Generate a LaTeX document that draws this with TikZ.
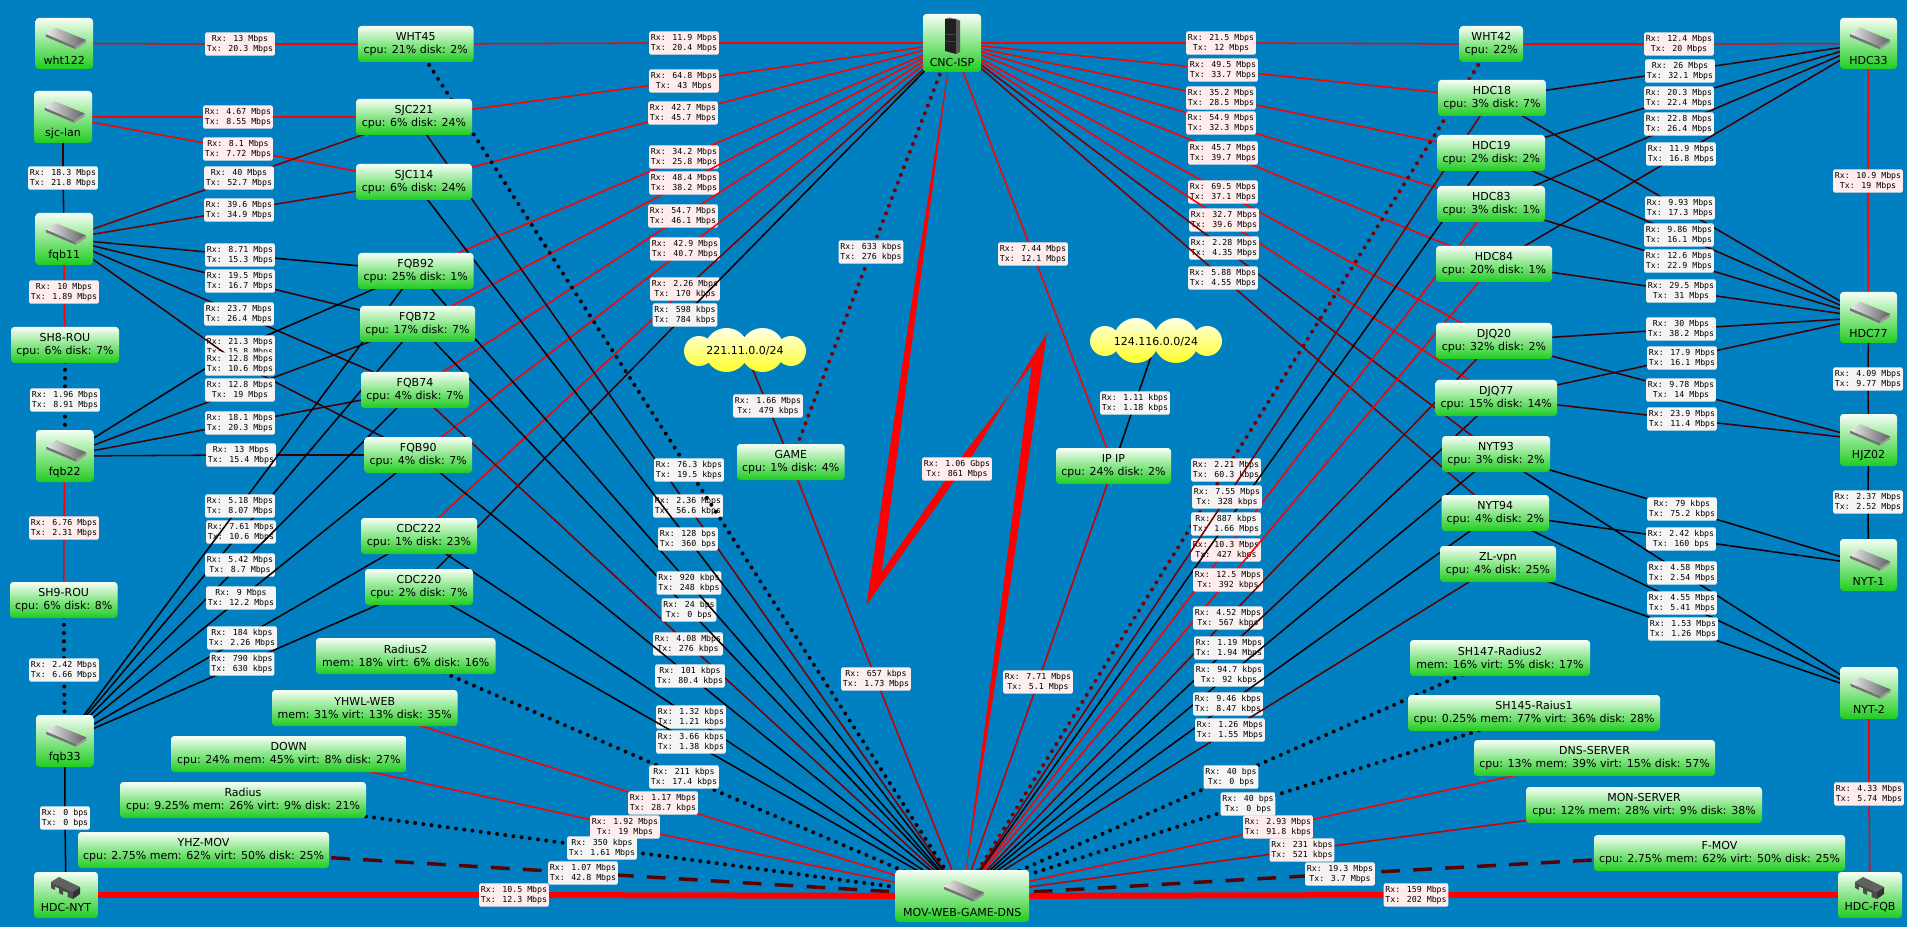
\documentclass[tikz,border=0pt]{standalone}
\usepackage{fontspec}
\setmainfont{DejaVu Sans}
\newfontfamily\labmono{DejaVu Sans Mono}
\pgfdeclarelayer{nodes}
\pgfsetlayers{main,nodes}
\definecolor{bgblue}{HTML}{0080C0}
\definecolor{nTop}{HTML}{F6FFF6}
\definecolor{nBot}{HTML}{1FCC1F}
\definecolor{cloudTop}{HTML}{FFFFE6}
\definecolor{cloudBot}{HTML}{FFFF28}
\definecolor{cR}{HTML}{FF0000}
\definecolor{cH}{HTML}{C80000}
\definecolor{cM}{HTML}{7A0000}
\definecolor{cD}{HTML}{3C0000}
\definecolor{cK}{HTML}{0C0000}
\definecolor{cT}{HTML}{5A0000}
\definecolor{labfillcR}{HTML}{FFEDED}
\definecolor{labfillcH}{HTML}{FBEFEF}
\definecolor{labfillcM}{HTML}{F7F1F1}
\definecolor{labfillcD}{HTML}{F6F3F3}
\definecolor{labfillcK}{HTML}{F5F5F5}
\definecolor{labfillcT}{HTML}{F6F2F2}
\newcounter{lbl}
\tikzset{
  nbox/.style={rectangle,rounded corners=2.5pt,inner sep=0pt,align=center,
    top color=nTop,bottom color=nBot,
    font=\fontsize{8.25}{9.75}\selectfont,text=black},
  ntext/.style={inner sep=0pt,font=\fontsize{8.25}{9.75}\selectfont,text=black},
  lab/.style={rectangle,rounded corners=1.5pt,inner xsep=1.2pt,inner ysep=1.2pt,align=center,
    minimum height=17.6pt,font=\labmono\fontsize{6.2}{7.5}\selectfont,text=black},
  lnk/.style={line width=1.15pt},
  lnkdot/.style={line width=3pt,line cap=round,dash pattern=on 0pt off 6.2pt},
  lnkdash/.style={line width=2.6pt,dash pattern=on 14pt off 10pt},
  lnkthick/.style={line width=4.5pt}
}
% connector: from node, half colour, label point, rx, tx, half colour, to node
\newcommand{\lk}[8][lnk]{%
  \stepcounter{lbl}%
  \coordinate (M\thelbl) at (#4);%
  \draw[#1,draw=#3] (#2.center) -- (M\thelbl);%
  \draw[#1,draw=#7] (M\thelbl) -- (#8.center);%
  \node[lab,fill=labfill#3] (L\thelbl) at (M\thelbl) {Rx: #5\\Tx: #6};%
}
\newcommand{\nd}[6]{%
  \pgfmathsetmacro{\nX}{(#2+#4)/2}\pgfmathsetmacro{\nY}{(#3+#5)/2}%
  \pgfmathsetmacro{\nW}{(#4-#2)*.75}\pgfmathsetmacro{\nH}{(#5-#3)*.75}%
  \node[nbox,minimum width=\nW pt,minimum height=\nH pt] (#1) at (\nX,\nY) {#6};%
}
\newcommand{\iconswitch}{%
  \fill[black!55] (-18.4,-9.6) -- (11.4,3) -- (11.4,5.8) -- (-18.4,-6.8) -- cycle;
  \fill[black!40] (11.4,3) -- (21.6,-3.6) -- (21.6,-0.8) -- (11.4,5.8) -- cycle;
  \shade[left color=black!8,right color=black!62] (-18.4,-9.6) -- (-8.2,-15.8) -- (21.6,-3.6) -- (11.4,3) -- cycle;
}
\newcommand{\iconrack}{%
  \fill[black!88] (-7,-9) -- (-7,-24) -- (4,-24) -- (4,11) -- (-7,8) -- cycle;
  \fill[black!65] (4,-24) -- (8,-22) -- (8,9) -- (4,11) -- cycle;
  \fill[black!55] (-7,-24) -- (-2,-25.5) -- (8,-22) -- (4,-24) -- cycle;
  \draw[black!60,line width=.3pt] (-7,-9) -- (4,-8) (-7,-2) -- (4,-1);
}
\newcommand{\iconbridge}{%
  \begin{scope}[shift={(0,-7)}]
  \fill[black!62] (-15,-6) -- (-7,-11) -- (14,-1) -- (7,4) -- cycle;
  \fill[black!70] (-15,-6) -- (7,4) -- (7,11) -- (1.5,9) -- (1.5,4.5) -- (-3,3) -- (-3,7) -- (-7,5) -- (-7,0.5) -- (-11,-1.5) -- (-11,2) -- (-15,0) -- cycle;
  \fill[black!80] (7,4) -- (14,-1) -- (14,6) -- (7,11) -- cycle;
  \end{scope}
}
% device box: name, x1,y1,x2,y2, text, icon
\newcommand{\dv}[7]{%
  \nd{#1}{#2}{#3}{#4}{#5}{}%
  \begin{scope}[shift={(\nX,\nY)}]#7\end{scope}%
  \node[ntext] (#1t) at (\nX,\nY+#6) {#1};%
}
\begin{document}
\begin{tikzpicture}[x=.75pt,y=-.75pt]
\useasboundingbox (0,0) rectangle (1907,927);
\fill[bgblue] (0,0) rectangle (1907,927);
\begin{pgfonlayer}{nodes}
\dv{wht122}{35.5}{18}{93}{69}{16.5}{\iconswitch}
\dv{sjc-lan}{34}{91}{92}{143}{16}{\iconswitch}
\dv{fqb11}{35.5}{213}{93}{265}{16}{\iconswitch}
\dv{fqb22}{36}{430}{93.5}{482}{16}{\iconswitch}
\dv{fqb33}{36}{715}{93.5}{767}{16}{\iconswitch}
\dv{HDC-NYT}{34}{872}{98}{918}{12}{\iconbridge}
\dv{CNC-ISP}{923}{14}{981}{72}{19}{\iconrack}
\dv{MOV-WEB-GAME-DNS}{895.5}{870}{1029}{922}{16}{\iconswitch}
\dv{HDC33}{1840}{18}{1897}{69}{16.5}{\iconswitch}
\dv{HDC77}{1840}{292}{1897}{343}{16}{\iconswitch}
\dv{HJZ02}{1840}{414}{1897}{466}{16}{\iconswitch}
\dv{NYT-1}{1840}{539}{1897}{591}{16}{\iconswitch}
\dv{NYT-2}{1840}{667}{1898}{719}{16}{\iconswitch}
\dv{HDC-FQB}{1838}{872}{1902}{918}{12}{\iconbridge}
\nd{WHT45}{358}{26}{473.5}{62}{WHT45\\cpu: 21\% disk: 2\%}
\nd{SJC221}{356}{99}{472}{135}{SJC221\\cpu: 6\% disk: 24\%}
\nd{SJC114}{356}{164}{472}{200}{SJC114\\cpu: 6\% disk: 24\%}
\nd{FQB92}{358}{253}{473.5}{289}{FQB92\\cpu: 25\% disk: 1\%}
\nd{FQB72}{360}{306}{475}{342}{FQB72\\cpu: 17\% disk: 7\%}
\nd{FQB74}{361}{372}{469}{408}{FQB74\\cpu: 4\% disk: 7\%}
\nd{FQB90}{364.5}{437}{472}{473}{FQB90\\cpu: 4\% disk: 7\%}
\nd{CDC222}{361}{518}{477}{554}{CDC222\\cpu: 1\% disk: 23\%}
\nd{CDC220}{365}{569}{473}{605}{CDC220\\cpu: 2\% disk: 7\%}
\nd{SH8-ROU}{11}{327}{119}{363}{SH8-ROU\\cpu: 6\% disk: 7\%}
\nd{SH9-ROU}{10}{582}{117.5}{618}{SH9-ROU\\cpu: 6\% disk: 8\%}
\nd{Radius2}{316}{638}{495.5}{674}{Radius2\\mem: 18\% virt: 6\% disk: 16\%}
\nd{YHWL-WEB}{272}{690}{457.5}{726}{YHWL-WEB\\mem: 31\% virt: 13\% disk: 35\%}
\nd{DOWN}{171}{736}{406.5}{772}{DOWN\\cpu: 24\% mem: 45\% virt: 8\% disk: 27\%}
\nd{Radius}{120}{782}{366}{818}{Radius\\cpu: 9.25\% mem: 26\% virt: 9\% disk: 21\%}
\nd{YHZ-MOV}{78}{832}{329}{868}{YHZ-MOV\\cpu: 2.75\% mem: 62\% virt: 50\% disk: 25\%}
\nd{GAME}{737}{444}{844.5}{480}{GAME\\cpu: 1\% disk: 4\%}
\nd{IPIP}{1056}{448}{1171}{484}{IP IP\\cpu: 24\% disk: 2\%}
\nd{WHT42}{1459.6}{26}{1523}{62}{WHT42\\cpu: 22\%}
\nd{HDC18}{1438}{80}{1546}{116}{HDC18\\cpu: 3\% disk: 7\%}
\nd{HDC19}{1437.6}{135}{1545}{171}{HDC19\\cpu: 2\% disk: 2\%}
\nd{HDC83}{1437.6}{186}{1545}{222}{HDC83\\cpu: 3\% disk: 1\%}
\nd{HDC84}{1436}{246}{1552}{282}{HDC84\\cpu: 20\% disk: 1\%}
\nd{DJQ20}{1436}{323}{1552}{359}{DJQ20\\cpu: 32\% disk: 2\%}
\nd{DJQ77}{1435.6}{380}{1557}{416}{DJQ77\\cpu: 15\% disk: 14\%}
\nd{NYT93}{1442}{436}{1550}{472}{NYT93\\cpu: 3\% disk: 2\%}
\nd{NYT94}{1441.6}{495}{1549}{531}{NYT94\\cpu: 4\% disk: 2\%}
\nd{ZL-vpn}{1440}{546}{1556}{582}{ZL-vpn\\cpu: 4\% disk: 25\%}
\nd{SH147}{1410}{640}{1590}{676}{SH147-Radius2\\mem: 16\% virt: 5\% disk: 17\%}
\nd{SH145}{1408}{695}{1660}{731}{SH145-Raius1\\cpu: 0.25\% mem: 77\% virt: 36\% disk: 28\%}
\nd{DNS}{1474}{740}{1715}{776}{DNS-SERVER\\cpu: 13\% mem: 39\% virt: 15\% disk: 57\%}
\nd{MON}{1526}{787}{1762}{823}{MON-SERVER\\cpu: 12\% mem: 28\% virt: 9\% disk: 38\%}
\nd{F-MOV}{1594}{835}{1845}{871}{F-MOV\\cpu: 2.75\% mem: 62\% virt: 50\% disk: 25\%}
% clouds
\shade[top color=cloudTop,bottom color=cloudBot]
  (699,351) circle[radius=15] (726.5,350) circle[radius=22] (762.4,350) circle[radius=22] (791,351) circle[radius=15];
\node[ntext] (c221) at (745,351) {221.11.0.0/24};
\shade[top color=cloudTop,bottom color=cloudBot]
  (1105,341) circle[radius=15] (1136,340.5) circle[radius=22.5] (1176,340.5) circle[radius=22.5] (1207,341) circle[radius=15];
\node[ntext] (c124) at (1156,342) {124.116.0.0/24};
\end{pgfonlayer}
% lightning link
\fill[cR] (CNC-ISP.center) -- (910.6,310) -- (866.5,605) -- (974,453) -- (1047,333) -- (1005,620) -- (MOV-WEB-GAME-DNS.center)
  -- (999,620) -- (1032,365) -- (964.5,453) -- (881.6,572) -- (916.3,310) -- cycle;
\node[lab,fill=labfillcR] (Lbolt) at (957,469) {Rx: 1.06 Gbps\\Tx: 861 Mbps};
% left column
\lk{wht122}{cR}{240,44}{13 Mbps}{20.3 Mbps}{cR}{WHT45}
\lk{sjc-lan}{cR}{238,117}{4.67 Mbps}{8.55 Mbps}{cR}{SJC221}
\lk{sjc-lan}{cR}{238,149}{8.1 Mbps}{7.72 Mbps}{cR}{SJC114}
\lk{sjc-lan}{cD}{63,178}{18.3 Mbps}{21.8 Mbps}{cD}{fqb11}
\lk{fqb11}{cM}{239,178}{40 Mbps}{52.7 Mbps}{cM}{SJC221}
\lk{fqb11}{cM}{239,210}{39.6 Mbps}{34.9 Mbps}{cM}{SJC114}
\lk{fqb11}{cD}{240,255}{8.71 Mbps}{15.3 Mbps}{cK}{FQB92}
\lk{fqb11}{cD}{240,281}{19.5 Mbps}{16.7 Mbps}{cD}{FQB72}
\lk{fqb11}{cD}{239,314}{23.7 Mbps}{26.4 Mbps}{cD}{FQB74}
\lk{fqb22}{cK}{240,347}{21.3 Mbps}{15.8 Mbps}{cK}{FQB92}
\lk{fqb11}{cD}{240,364}{12.8 Mbps}{10.6 Mbps}{cD}{FQB90}
\lk{fqb22}{cD}{240,390}{12.8 Mbps}{19 Mbps}{cD}{FQB72}
\lk{fqb22}{cD}{240,423}{18.1 Mbps}{20.3 Mbps}{cD}{FQB74}
\lk{fqb22}{cD}{241,455}{13 Mbps}{15.4 Mbps}{cD}{FQB90}
\lk{fqb11}{cR}{64,292}{10 Mbps}{1.89 Mbps}{cR}{SH8-ROU}
\lk[lnkdot]{SH8-ROU}{cK}{65,400}{1.96 Mbps}{8.91 Mbps}{cK}{fqb22}
\lk{fqb22}{cR}{64,528}{6.76 Mbps}{2.31 Mbps}{cR}{SH9-ROU}
\lk[lnkdot]{SH9-ROU}{cK}{64,670}{2.42 Mbps}{6.66 Mbps}{cK}{fqb33}
\lk{fqb33}{cK}{65,818}{0 bps}{0 bps}{cK}{HDC-NYT}
\lk{fqb33}{cK}{241,532}{7.61 Mbps}{10.6 Mbps}{cK}{FQB72}
\lk{fqb33}{cK}{240,506}{5.18 Mbps}{8.07 Mbps}{cK}{FQB92}
\lk{fqb33}{cK}{240,565}{5.42 Mbps}{8.7 Mbps}{cK}{FQB74}
\lk{fqb33}{cK}{241,598}{9 Mbps}{12.2 Mbps}{cK}{FQB90}
\lk{fqb33}{cK}{242,638}{184 kbps}{2.26 Mbps}{cK}{CDC222}
\lk{fqb33}{cK}{242,664}{790 kbps}{630 kbps}{cK}{CDC220}
% to CNC
\lk{WHT45}{cR}{684,43}{11.9 Mbps}{20.4 Mbps}{cR}{CNC-ISP}
\lk{SJC221}{cR}{684,81}{64.8 Mbps}{43 Mbps}{cR}{CNC-ISP}
\lk{SJC114}{cR}{683,113}{42.7 Mbps}{45.7 Mbps}{cR}{CNC-ISP}
\lk{FQB92}{cR}{684,157}{34.2 Mbps}{25.8 Mbps}{cR}{CNC-ISP}
\lk{FQB72}{cR}{684,183}{48.4 Mbps}{38.2 Mbps}{cR}{CNC-ISP}
\lk{FQB74}{cR}{683,216}{54.7 Mbps}{46.1 Mbps}{cR}{CNC-ISP}
\lk{FQB90}{cR}{685,249}{42.9 Mbps}{40.7 Mbps}{cR}{CNC-ISP}
\lk{CDC222}{cR}{685,289}{2.26 Mbps}{170 kbps}{cM}{CNC-ISP}
\lk{CDC220}{cD}{685,315}{598 kbps}{784 kbps}{cK}{CNC-ISP}
% to MOV, left
\def\MV{MOV-WEB-GAME-DNS}
\lk{SJC221}{cD}{688,506}{2.36 Mbps}{56.6 kbps}{cM}{\MV}
\lk{FQB74}{cM}{688,644}{4.08 Mbps}{276 kbps}{cM}{\MV}
\lk{CDC222}{cK}{691,717}{1.32 kbps}{1.21 kbps}{cK}{\MV}
\lk{FQB72}{cK}{689,610}{24 bps}{0 bps}{cK}{\MV}
\lk{FQB92}{cK}{689,583}{920 kbps}{248 kbps}{cK}{\MV}
\lk{SJC114}{cK}{688,539}{128 bps}{360 bps}{cK}{\MV}
\lk[lnkdot]{WHT45}{cK}{689,470}{76.3 kbps}{19.5 kbps}{cK}{\MV}
\lk{FQB90}{cK}{690,676}{101 kbps}{80.4 kbps}{cK}{\MV}
\lk{CDC220}{cK}{691,742}{3.66 kbps}{1.38 kbps}{cK}{\MV}
\lk[lnkdot]{Radius2}{cK}{684,777}{211 kbps}{17.4 kbps}{cK}{\MV}
\lk{YHWL-WEB}{cR}{663,803}{1.17 Mbps}{28.7 kbps}{cR}{\MV}
\lk{DOWN}{cR}{625,827}{1.92 Mbps}{19 Mbps}{cR}{\MV}
\lk[lnkdot]{Radius}{cK}{602,848}{350 kbps}{1.61 Mbps}{cK}{\MV}
\lk[lnkdash]{YHZ-MOV}{cT}{583,873}{1.07 Mbps}{42.8 Mbps}{cT}{\MV}
\lk[lnkthick]{HDC-NYT}{cR}{514,895}{10.5 Mbps}{12.3 Mbps}{cR}{\MV}
% centre
\lk[lnkdot]{GAME}{cM}{871,252}{633 kbps}{276 kbps}{cM}{CNC-ISP}
\lk{GAME}{cM}{768,406}{1.66 Mbps}{479 kbps}{cM}{c221}
\lk{GAME}{cH}{876,679}{657 kbps}{1.73 Mbps}{cH}{\MV}
\lk{IPIP}{cR}{1033,254}{7.44 Mbps}{12.1 Mbps}{cR}{CNC-ISP}
\lk{IPIP}{cK}{1135,403}{1.11 kbps}{1.18 kbps}{cK}{c124}
\lk{IPIP}{cH}{1038,682}{7.71 Mbps}{5.1 Mbps}{cH}{\MV}
% to CNC, right
\lk{CNC-ISP}{cR}{1221,43}{21.5 Mbps}{12 Mbps}{cR}{WHT42}
\lk{CNC-ISP}{cR}{1223,70}{49.5 Mbps}{33.7 Mbps}{cR}{HDC18}
\lk{CNC-ISP}{cR}{1221,98}{35.2 Mbps}{28.5 Mbps}{cR}{HDC19}
\lk{CNC-ISP}{cR}{1221,123}{54.9 Mbps}{32.3 Mbps}{cR}{HDC83}
\lk{CNC-ISP}{cR}{1223,153}{45.7 Mbps}{39.7 Mbps}{cR}{HDC84}
\lk{CNC-ISP}{cR}{1223,192}{69.5 Mbps}{37.1 Mbps}{cR}{DJQ20}
\lk{CNC-ISP}{cR}{1224,220}{32.7 Mbps}{39.6 Mbps}{cR}{DJQ77}
\lk{CNC-ISP}{cM}{1224,248}{2.28 Mbps}{4.35 Mbps}{cM}{NYT93}
\lk{CNC-ISP}{cM}{1223,278}{5.88 Mbps}{4.55 Mbps}{cM}{NYT94}
% to MOV, right
\lk[lnkdot]{WHT42}{cM}{1226,470}{2.21 Mbps}{60.3 kbps}{cM}{\MV}
\lk{HDC83}{cR}{1226,550}{10.3 Mbps}{427 kbps}{cR}{\MV}
\lk{HDC19}{cK}{1226,524}{887 kbps}{1.66 Mbps}{cK}{\MV}
\lk{HDC18}{cM}{1227,497}{7.55 Mbps}{328 kbps}{cM}{\MV}
\lk{HDC84}{cR}{1228,580}{12.5 Mbps}{392 kbps}{cR}{\MV}
\lk{DJQ20}{cM}{1228,618}{4.52 Mbps}{567 kbps}{cM}{\MV}
\lk{DJQ77}{cD}{1229,648}{1.19 Mbps}{1.94 Mbps}{cK}{\MV}
\lk{NYT93}{cK}{1229,675}{94.7 kbps}{92 kbps}{cK}{\MV}
\lk{NYT94}{cK}{1228,704}{9.46 kbps}{8.47 kbps}{cK}{\MV}
\lk{ZL-vpn}{cT}{1230,730}{1.26 Mbps}{1.55 Mbps}{cT}{\MV}
\lk[lnkdot]{SH147}{cK}{1231,777}{40 bps}{0 bps}{cK}{\MV}
\lk[lnkdot]{SH145}{cK}{1248,804}{40 bps}{0 bps}{cK}{\MV}
\lk{DNS}{cR}{1278,827}{2.93 Mbps}{91.8 kbps}{cR}{\MV}
\lk{MON}{cH}{1302,850}{231 kbps}{521 kbps}{cH}{\MV}
\lk[lnkdash]{F-MOV}{cT}{1340,874}{19.3 Mbps}{3.7 Mbps}{cT}{\MV}
\lk[lnkthick]{HDC-FQB}{cR}{1416,895}{159 Mbps}{202 Mbps}{cR}{\MV}
% right column
\lk{WHT42}{cR}{1679,44}{12.4 Mbps}{20 Mbps}{cR}{HDC33}
\lk{HDC18}{cD}{1680,71}{26 Mbps}{32.1 Mbps}{cD}{HDC33}
\lk{HDC19}{cD}{1679,98}{20.3 Mbps}{22.4 Mbps}{cD}{HDC33}
\lk{HDC83}{cD}{1679,124}{22.8 Mbps}{26.4 Mbps}{cD}{HDC33}
\lk{HDC84}{cD}{1681,154}{11.9 Mbps}{16.8 Mbps}{cD}{HDC33}
\lk{HDC18}{cD}{1680,208}{9.93 Mbps}{17.3 Mbps}{cD}{HDC77}
\lk{HDC19}{cD}{1679,235}{9.86 Mbps}{16.1 Mbps}{cD}{HDC77}
\lk{HDC83}{cD}{1679,261}{12.6 Mbps}{22.9 Mbps}{cD}{HDC77}
\lk{HDC84}{cD}{1681,291}{29.5 Mbps}{31 Mbps}{cD}{HDC77}
\lk{DJQ20}{cD}{1681,329}{30 Mbps}{38.2 Mbps}{cD}{HDC77}
\lk{DJQ77}{cD}{1682,358}{17.9 Mbps}{16.1 Mbps}{cD}{HDC77}
\lk{DJQ20}{cD}{1681,390}{9.78 Mbps}{14 Mbps}{cD}{HJZ02}
\lk{DJQ77}{cD}{1682,419}{23.9 Mbps}{11.4 Mbps}{cD}{HJZ02}
\lk{HDC33}{cR}{1868,181}{10.9 Mbps}{19 Mbps}{cR}{HDC77}
\lk{HDC77}{cD}{1868,379}{4.09 Mbps}{9.77 Mbps}{cD}{HJZ02}
\lk{HJZ02}{cK}{1868,502}{2.37 Mbps}{2.52 Mbps}{cK}{NYT-1}
\lk{NYT93}{cK}{1682,509}{79 kbps}{75.2 kbps}{cK}{NYT-1}
\lk{NYT94}{cK}{1681,539}{2.42 kbps}{160 bps}{cK}{NYT-1}
\lk{NYT93}{cK}{1682,573}{4.58 Mbps}{2.54 Mbps}{cK}{NYT-2}
\lk{NYT94}{cK}{1682,603}{4.55 Mbps}{5.41 Mbps}{cK}{NYT-2}
\lk{ZL-vpn}{cK}{1683,629}{1.53 Mbps}{1.26 Mbps}{cK}{NYT-2}
\lk{NYT-2}{cR}{1869,794}{4.33 Mbps}{5.74 Mbps}{cR}{HDC-FQB}
\end{tikzpicture}
\end{document}
